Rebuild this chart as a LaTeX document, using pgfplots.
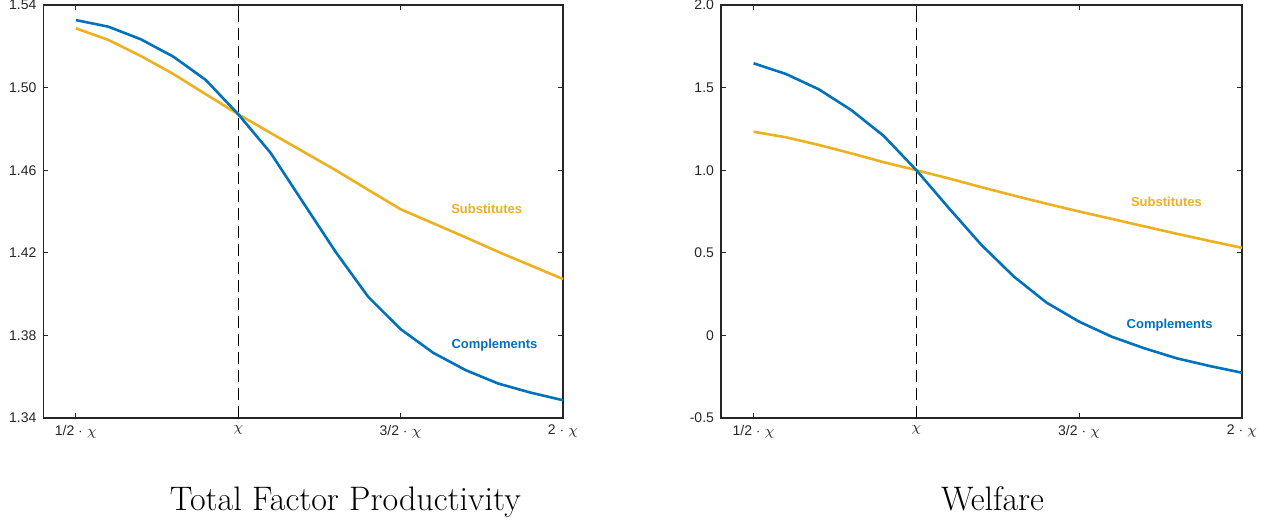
\documentclass[border=0pt]{standalone}
\usepackage{fontspec}
\usepackage{pgfplots}
\pgfplotsset{compat=1.18}
\newfontfamily\ticksf{Liberation Sans}
\definecolor{mblue}{RGB}{0,114,189}
\definecolor{myellow}{RGB}{237,177,32}
\definecolor{axgray}{RGB}{38,38,38}

\pgfplotsset{
  panel/.style={
    scale only axis,
    anchor=north west,
    height=206.5pt,
    xmin=0.4, xmax=2.0,
    xtick={0.5,1,1.5,2},
    xticklabels={1/2 $\cdot$ $\chi$, $\chi$, 3/2 $\cdot$ $\chi$, 2 $\cdot$ $\chi$},
    xtick pos=both, ytick pos=both,
    tick align=inside,
    major tick length=2.5pt,
    axis line style={draw=axgray, line width=0.6pt},
    tick style={draw=axgray, line width=0.6pt},
    tick label style={font=\ticksf\fontsize{7}{8}\selectfont, text=axgray},
    /pgf/number format/assume math mode=true,
    clip=false,
  },
}
\tikzset{
  curve/.style={line width=1.3pt, line join=round},
  vline/.style={black, line width=0.6pt, dash pattern=on 6pt off 3pt},
  tag/.style={font=\ticksf\bfseries\fontsize{6.5}{7}\selectfont},
}

\begin{document}
\begin{tikzpicture}
\path[use as bounding box] (0,0) rectangle (634.5pt,-261.5pt);

% Total factor productivity
\begin{axis}[panel, at={(21.7pt,-2.5pt)}, width=259.8pt,
  ymin=1.34, ymax=1.54,
  ytick={1.34,1.38,1.42,1.46,1.50,1.54},
  yticklabels={1.34,1.38,1.42,1.46,1.50,1.54}]
\addplot[vline] coordinates {(1,1.34) (1,1.54)};
\addplot[curve, myellow] coordinates {
 (0.5,1.5287) (0.6,1.5231) (0.7,1.5153) (0.8,1.5066) (0.9,1.4968)
 (1.0,1.4871) (1.1,1.4780) (1.2,1.4690) (1.3,1.4600) (1.4,1.4505)
 (1.5,1.4411) (1.6,1.4343) (1.7,1.4275) (1.8,1.4205) (1.9,1.4139)
 (2.0,1.4073)};
\addplot[curve, mblue] coordinates {
 (0.5,1.5327) (0.6,1.5295) (0.7,1.5234) (0.8,1.5150) (0.9,1.5037)
 (1.0,1.4871) (1.1,1.4683) (1.2,1.4443) (1.3,1.4204) (1.4,1.3987)
 (1.5,1.3830) (1.6,1.3716) (1.7,1.3632) (1.8,1.3567) (1.9,1.3523)
 (2.0,1.3486)};
\node[tag, text=myellow] at (axis cs:1.765,1.4412) {Substitutes};
\node[tag, text=mblue] at (axis cs:1.789,1.3754) {Complements};
\end{axis}

% Welfare
\begin{axis}[panel, at={(360.5pt,-2.5pt)}, width=260.5pt,
  ymin=-0.5, ymax=2.0,
  ytick={-0.5,0,0.5,1,1.5,2},
  yticklabels={-0.5,0,0.5,1.0,1.5,2.0}]
\addplot[vline] coordinates {(1,-0.5) (1,2.0)};
\addplot[curve, myellow] coordinates {
 (0.5,1.233) (0.6,1.199) (0.7,1.153) (0.8,1.102) (0.9,1.048)
 (1.0,1.000) (1.1,0.950) (1.2,0.897) (1.3,0.846) (1.4,0.797)
 (1.5,0.750) (1.6,0.705) (1.7,0.660) (1.8,0.615) (1.9,0.572)
 (2.0,0.530)};
\addplot[curve, mblue] coordinates {
 (0.5,1.647) (0.6,1.582) (0.7,1.490) (0.8,1.364) (0.9,1.207)
 (1.0,1.000) (1.1,0.770) (1.2,0.547) (1.3,0.355) (1.4,0.198)
 (1.5,0.083) (1.6,-0.008) (1.7,-0.078) (1.8,-0.139) (1.9,-0.185)
 (2.0,-0.226)};
\node[tag, text=myellow] at (axis cs:1.768,0.809) {Substitutes};
\node[tag, text=mblue] at (axis cs:1.778,0.063) {Complements};
\end{axis}

\node[anchor=base, font=\fontsize{17}{20}\selectfont] at (172.7pt,-255pt) {Total Factor Productivity};
\node[anchor=base, font=\fontsize{17}{20}\selectfont] at (496.25pt,-255pt) {Welfare};
\end{tikzpicture}
\end{document}
